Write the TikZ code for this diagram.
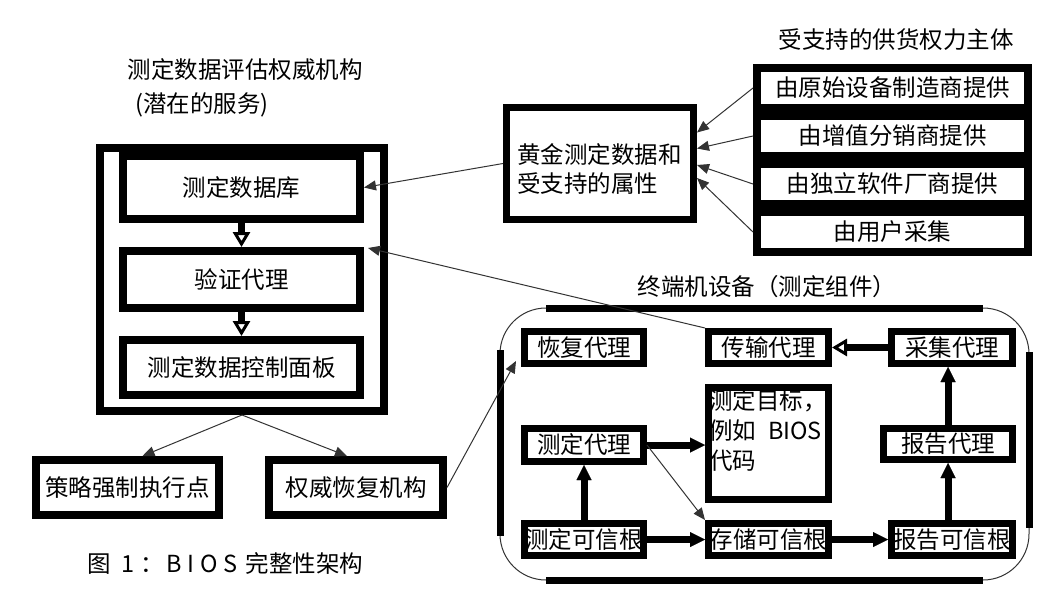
\documentclass[tikz,border=0pt]{standalone}
\usepackage{fontspec}
\setmainfont{Noto Sans CJK SC}
\usetikzlibrary{arrows.meta,calc}

\begin{document}
\begin{tikzpicture}[x=1pt,y=-1pt,
  every node/.style={font=\fontsize{23.5}{29}\selectfont, inner sep=0pt},
  heavybox/.style={draw, line width=8pt},
  agentbox/.style={draw, line width=7pt},
  fatarrow/.style={line width=7pt, -{Triangle[length=15pt,width=15pt,line width=0.01pt]}},
  fatopen/.style={line width=7pt, -{Triangle[open,length=15pt,width=17pt,line width=3pt]}},
  thinarrow/.style={line width=1pt, draw=black!80, -{Triangle[length=12pt,width=10pt]}},
  thinline/.style={line width=1pt, draw=black!80},
]
\fill[white] (0,0) rectangle (1058,595);
\useasboundingbox (0,0) rectangle (1058,595);

% ---- evaluation authority (left panel) ----
\node (authtitle) at (245,70) {测定数据评估权威机构};
\node[anchor=west] (authsub) at (135,105) {(潜在的服务)};
\node[heavybox, minimum width=284pt, minimum height=263pt] (outer) at (242,279.5) {};
\node[heavybox, minimum width=237pt, minimum height=63pt] (db) at (241.5,187.5) {测定数据库};
\node[heavybox, minimum width=237pt, minimum height=57pt] (verify) at (241.5,279.5) {验证代理};
\node[heavybox, minimum width=237pt, minimum height=55pt] (panel) at (241.5,367.5) {测定数据控制面板};

\node[heavybox, minimum width=183pt, minimum height=55pt] (policy) at (127.5,487.5) {策略强制执行点};
\node[heavybox, minimum width=174pt, minimum height=55pt] (recovery) at (356,487.5) {权威恢复机构};

\node[anchor=west] (caption) at (87,563) {图\hspace{11pt}1\hspace{6pt}：\hspace{2pt}B\hspace{6pt}I\hspace{6pt}O\hspace{6pt}S\hspace{8pt}完整性架构};

% ---- golden measurements and supply chain ----
\node[agentbox, minimum width=187pt, minimum height=112pt] (golden) at (600,163.5) {};
\node[anchor=west, align=left] (goldtext) at (517,168.5) {黄金测定数据和\\受支持的属性};

\node (suptitle) at (896,40) {受支持的供货权力主体};
\node[heavybox, minimum width=271pt, minimum height=40pt] (oem) at (892.5,88) {由原始设备制造商提供};
\node[heavybox, minimum width=271pt, minimum height=40pt] (var) at (892.5,136) {由增值分销商提供};
\node[heavybox, minimum width=271pt, minimum height=40pt] (isv) at (892.5,184) {由独立软件厂商提供};
\node[heavybox, minimum width=271pt, minimum height=40pt] (user) at (892.5,232) {由用户采集};

% ---- end device ----
\draw[thinline, rounded corners=46pt] (500,308) rectangle (1029,580);
\draw[line width=7pt] (546,308) -- (983,308);
\draw[line width=7pt] (546,580) -- (983,580);
\draw[line width=7pt] (500,350) -- (500,536);
\draw[line width=7pt] (1029,352) -- (1029,528);
\node (termtitle) at (767,287) {终端机设备（测定组件）};

\node[agentbox, minimum width=119pt, minimum height=32pt] (recagent) at (584,347.5) {恢复代理};
\node[agentbox, minimum width=120pt, minimum height=32pt] (tagent) at (768.5,347.5) {传输代理};
\node[agentbox, minimum width=121pt, minimum height=32pt] (cagent) at (952,347.5) {采集代理};
\node[agentbox, minimum width=120pt, minimum height=112pt] (bios) at (768.5,443.5) {};
\node[anchor=north west, align=left, font=\fontsize{23.5}{30}\selectfont] (biostext) at (709,389) {测定目标，\\例如\hspace{12pt}BIOS\\代码};
\node[agentbox, minimum width=119pt, minimum height=33pt] (magent) at (584,445) {测定代理};
\node[agentbox, minimum width=129pt, minimum height=31pt] (ragent) at (948,444) {报告代理};
\node[agentbox, minimum width=119pt, minimum height=32pt] (mroot) at (584,539.5) {测定可信根};
\node[agentbox, minimum width=120pt, minimum height=32pt] (sroot) at (768.5,539.5) {存储可信根};
\node[agentbox, minimum width=121pt, minimum height=32pt] (rroot) at (952,539.5) {报告可信根};

% ---- heavy flows ----
\draw[fatopen] (db) -- (verify);
\draw[fatopen] (verify) -- (panel);
\draw[fatarrow] (mroot) -- (magent);
\draw[fatarrow] (magent.east) -- (magent.east -| bios.west);
\draw[fatarrow] (mroot) -- (sroot);
\draw[fatarrow] (sroot) -- (rroot);
\draw[fatarrow] (rroot.north -| ragent.south) -- (ragent.south);
\draw[fatarrow] (ragent.north) -- (ragent.north |- cagent.south);
\draw[fatopen] (cagent) -- (tagent);

% ---- light flows ----
\coordinate (g1) at ($(golden.east)+(0,-31)$);
\coordinate (g2) at ($(golden.east)+(0,-15)$);
\coordinate (g3) at ($(golden.east)+(0,1.5)$);
\coordinate (g4) at ($(golden.east)+(0,14.5)$);
\draw[thinarrow] (oem.west) -- (g1);
\draw[thinarrow] (var.west) -- (g2);
\draw[thinarrow] (isv.west) -- (g3);
\draw[thinarrow] (user.west) -- (g4);
\draw[thinarrow] (golden.west) -- (db.east);

\coordinate (vtip) at ($(verify.north east)+(4,1)$);
\draw[thinarrow] (tagent.north west) -- (vtip);
\coordinate (rtip) at ($(recagent.south west)+(-5,-6)$);
\draw[thinarrow] (recovery.east) -- (rtip);
\draw[thinarrow] (magent.east) -- (sroot.north west);

\coordinate (ptip) at ($(policy.north)+(15,0)$);
\coordinate (atip) at ($(recovery.north)+(-9,0)$);
\draw[thinarrow] (outer.south) -- (ptip);
\draw[thinarrow] (outer.south) -- (atip);
\end{tikzpicture}
\end{document}
